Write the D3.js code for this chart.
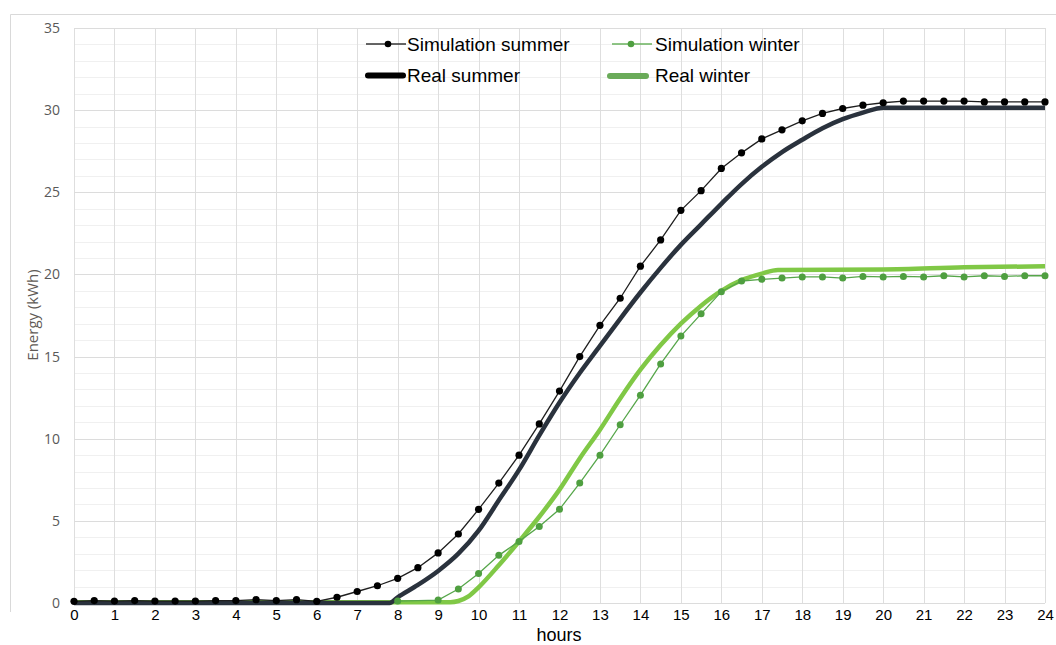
<!DOCTYPE html>
<html><head><meta charset="utf-8">
<script src="https://cdn.jsdelivr.net/npm/d3@7"></script>
<style>html,body{margin:0;padding:0;background:#fff;}svg{display:block;}</style>
</head><body>
<script>
// ---- data ----
const simHours = d3.range(0, 24.01, 0.5);
const simSummer = [0.1,0.15,0.12,0.15,0.12,0.12,0.12,0.15,0.15,0.2,0.15,0.2,0.1,
  0.35,0.7,1.05,1.5,2.15,3.05,4.2,5.7,7.3,9.0,10.9,12.9,15.0,16.9,18.55,20.5,22.1,23.9,25.1,26.45,27.4,28.25,28.8,29.35,29.8,30.1,30.3,30.45,
  30.55,30.55,30.55,30.55,30.5,30.5,30.5,30.5];
const simWinterHours = [8,9,9.5,10,10.5,11,11.5,12,12.5,13,13.5,14,14.5,15,15.5,16,16.5,17,17.5,18,18.5,19,19.5,20,20.5,21,21.5,22,22.5,23,23.5,24];
const simWinter = [0.12,0.18,0.85,1.8,2.9,3.75,4.65,5.7,7.3,9.0,10.85,12.65,14.55,16.25,17.6,18.95,19.6,19.7,19.78,19.85,19.85,19.78,19.88,19.85,19.88,19.85,19.92,19.85,19.92,19.88,19.92,19.92];
const realSummerHours = [0,7.8,8,8.5,9,9.5,10,10.5,11,11.5,12,12.5,13,13.5,14,14.5,15,15.5,16,16.5,17,17.5,18,18.5,19,19.5,20,24];
const realSummer = [0,0,0.35,1.1,1.95,3.0,4.4,6.25,8.1,10.2,12.2,14.0,15.65,17.3,18.9,20.4,21.8,23.05,24.3,25.5,26.55,27.45,28.2,28.9,29.45,29.85,30.15,30.15];
const realWinterHours = [0,9.3,9.5,9.75,10,10.5,11,11.5,12,12.5,13,13.5,14,14.5,15,15.5,16,16.5,17,17.4,20,22,24];
const realWinter = [0.05,0.05,0.12,0.4,0.95,2.3,3.75,5.25,6.9,8.8,10.55,12.45,14.2,15.7,17.0,18.1,19.0,19.65,20.05,20.27,20.3,20.43,20.5];
const xTicks = d3.range(0, 25, 1);
const yTicks = [0,5,10,15,20,25,30,35];
const legendLabels = ["Simulation summer","Real summer","Simulation winter","Real winter"];

// ---- chart ----
const W = 1056, H = 645;
const svg = d3.select("body").append("svg").attr("width", W).attr("height", H);
const x = d3.scaleLinear().domain([0,24]).range([74,1045]);
const y = d3.scaleLinear().domain([0,35]).range([603,28]);

// outer border
svg.append("path").attr("d","M10.5,612 L10.5,14.5 L1056,14.5").attr("fill","none").attr("stroke","#d9d9d9");

// grid
const g = svg.append("g");
g.selectAll(".hmin").data(d3.range(0,36,1).filter(v=>v%5!==0)).join("line")
  .attr("x1",x(0)).attr("x2",x(24)).attr("y1",d=>Math.round(y(d))+0.5).attr("y2",d=>Math.round(y(d))+0.5)
  .attr("stroke","#f0f0f0");
g.selectAll(".vgrid").data(xTicks).join("line")
  .attr("x1",d=>Math.round(x(d))+0.5).attr("x2",d=>Math.round(x(d))+0.5).attr("y1",y(35)).attr("y2",y(0))
  .attr("stroke","#dedede");
g.selectAll(".hmaj").data(yTicks).join("line")
  .attr("x1",x(0)).attr("x2",x(24)).attr("y1",d=>Math.round(y(d))+0.5).attr("y2",d=>Math.round(y(d))+0.5)
  .attr("stroke","#dcdcdc");

// axes labels
const yAxis = d3.axisLeft(y).tickValues(yTicks).tickSize(0).tickPadding(0);
const ya = svg.append("g").attr("transform","translate(60,0)").call(yAxis);
ya.select(".domain").remove();
ya.selectAll("text").attr("font-family","'Open Sans', sans-serif").attr("font-size",14).attr("fill","#595959");

const xAxis = d3.axisBottom(x).tickValues(xTicks).tickSize(0).tickPadding(0);
const xa = svg.append("g").attr("transform","translate(0,609)").call(xAxis);
xa.select(".domain").remove();
xa.selectAll("text").attr("font-family","'Liberation Sans', Arial, sans-serif").attr("font-size",15).attr("fill","#000").attr("dy","0.71em");

svg.append("text").attr("x",559).attr("y",641).attr("text-anchor","middle")
  .attr("font-family","'Liberation Sans', Arial, sans-serif").attr("font-size",18).attr("fill","#000").text("hours");
svg.append("text").attr("transform","translate(38,315) rotate(-90)").attr("text-anchor","middle")
  .attr("font-family","'Open Sans', sans-serif").attr("font-size",15).attr("fill","#5f5a56").text("Energy (kWh)");

// lines
const smooth = d3.line().x(d=>x(d[0])).y(d=>y(d[1])).curve(d3.curveMonotoneX);
const straight = d3.line().x(d=>x(d[0])).y(d=>y(d[1]));
const rw = d3.zip(realWinterHours, realWinter);
const rs = d3.zip(realSummerHours, realSummer);
const sw = d3.zip(simWinterHours, simWinter);
const ss = d3.zip(simHours, simSummer);

svg.append("path").attr("d",smooth(rw)).attr("fill","none").attr("stroke","#80c846").attr("stroke-width",4.5).attr("stroke-linejoin","round");
svg.append("path").attr("d",smooth(rs)).attr("fill","none").attr("stroke","#2a323d").attr("stroke-width",4.5).attr("stroke-linejoin","round");
svg.append("path").attr("d",straight(sw)).attr("fill","none").attr("stroke","#56a64a").attr("stroke-width",1.3);
svg.selectAll(".swd").data(sw).join("circle").attr("cx",d=>x(d[0])).attr("cy",d=>y(d[1])).attr("r",3.5).attr("fill","#4f9f40");
svg.append("path").attr("d",straight(ss)).attr("fill","none").attr("stroke","#1e1e1e").attr("stroke-width",1.3);
svg.selectAll(".ssd").data(ss).join("circle").attr("cx",d=>x(d[0])).attr("cy",d=>y(d[1])).attr("r",3.6).attr("fill","#000");

// legend
const lg = svg.append("g").attr("font-family","'Liberation Sans', Arial, sans-serif").attr("font-size",19).attr("fill","#000");
lg.append("line").attr("x1",366).attr("x2",406).attr("y1",44).attr("y2",44).attr("stroke","#333").attr("stroke-width",1.5);
lg.append("circle").attr("cx",388).attr("cy",44).attr("r",3.3).attr("fill","#000");
lg.append("text").attr("x",407).attr("y",50.5).text(legendLabels[0]);
lg.append("line").attr("x1",368).attr("x2",403).attr("y1",75.5).attr("y2",75.5).attr("stroke","#000").attr("stroke-width",6).attr("stroke-linecap","round");
lg.append("text").attr("x",407).attr("y",82).text(legendLabels[1]);
lg.append("line").attr("x1",612).attr("x2",652).attr("y1",44).attr("y2",44).attr("stroke","#6ab25e").attr("stroke-width",1.5);
lg.append("circle").attr("cx",631).attr("cy",44).attr("r",3.3).attr("fill","#4f9f40");
lg.append("text").attr("x",655).attr("y",50.5).text(legendLabels[2]);
lg.append("line").attr("x1",610).attr("x2",646).attr("y1",76).attr("y2",76).attr("stroke","#6aab59").attr("stroke-width",6).attr("stroke-linecap","round");
lg.append("text").attr("x",655).attr("y",82).text(legendLabels[3]);
</script>
</body></html>
